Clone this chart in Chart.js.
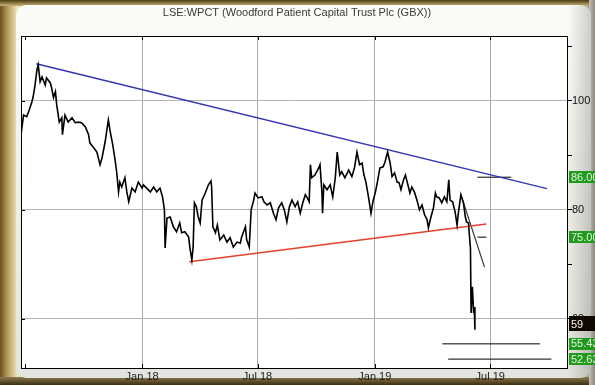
<!DOCTYPE html>
<html>
<head>
<meta charset="utf-8">
<script src="https://cdn.jsdelivr.net/npm/chart.js@4"></script>
<style>
html, body { margin: 0; padding: 0; }
body {
  width: 595px; height: 385px; overflow: hidden; position: relative;
  background: linear-gradient(to right, #6a5216 0px, #b89f5e 8px, #eee3bb 17px, #cfc5a0 60%, #a8a49a 100%);
}
#topband { position: absolute; left: 0; top: 0; width: 595px; height: 6px;
  background: linear-gradient(#4c3c10, #c9b67c); }
#bottomband { position: absolute; left: 0; top: 377px; width: 595px; height: 8px;
  background: linear-gradient(#8a7a50, #3e3010); }
#rightband { position: absolute; left: 589px; top: 0; width: 6px; height: 385px;
  background: linear-gradient(to right, #c4c0b4, #8a867c); }
#panel { position: absolute; left: 16px; top: 5px; width: 575px; height: 373px; border-radius: 10px;
  background: linear-gradient(to right, rgba(0,0,0,0) 96%, rgba(0,0,0,0.18)), linear-gradient(#fbfbf7, #e4e4de); }
#chart { position: absolute; left: 0; top: 0; }
</style>
</head>
<body>
<div id="topband"></div>
<div id="bottomband"></div>
<div id="rightband"></div>
<div id="panel"></div>
<canvas id="chart" width="595" height="385"></canvas>
<script>
// days counted from 1 Jan 2018, values in GBX
const titleText = "LSE:WPCT (Woodford Patient Capital Trust Plc (GBX))";

const priceDays = [
  -190,-186,-181,-178,-173,-171,-168,-165,-163,-160,-157,-152,-150,-144,-142,-139,-136,-134,-130,-126,
  -125,-121,-116,-110,-105,-100,-95,-89,-84,-82,-76,-71,-66,-63,-58,-53,-50,-46,-42,-40,
  -37,-35,-32,-27,-24,-21,-16,-11,-6,0,
  2,7,13,18,23,28,32,35,36,39,44,49,54,59,62,67,73,75,78,80,82,85,88,91,94,99,104,108,109,111,
  115,118,122,128,133,138,143,149,154,156,162,164,168,171,175,177,182,188,191,
  196,201,206,210,214,219,223,227,231,235,240,244,248,252,256,259,262,264,266,271,
  277,279,282,283,285,290,295,299,303,306,310,313,318,324,329,333,337,341,345,348,
  351,355,359,362,366,369,373,378,381,385,389,392,396,400,403,406,410,413,416,420,
  423,427,431,435,439,443,447,449,453,457,460,462,466,470,474,478,481,483,487,491,
  494,496,500,504,507,509,512,513,515,516,518,520,521,522
];
const priceValues = [
  93.8,97.4,97.1,98.0,99.8,100.7,102.9,105.7,106.6,103.5,104.4,102.9,104.2,103.3,102.4,100.6,101.7,99.3,96.1,96.9,
  93.8,97.4,96.1,96.9,96.0,96.1,96.0,95.2,93.8,92.3,91.4,90.6,88.3,89.5,92.5,96.5,94.3,91.9,88.8,87.0,
  83.3,85.1,84.2,85.9,83.3,81.5,84.0,83.3,85.1,84.0,
  84.6,84.0,83.3,84.2,83.3,84.0,82.4,80.0,73.0,78.5,78.7,76.9,76.0,77.6,75.8,76.0,75.0,73.0,70.8,73.2,
  81.3,80.6,78.7,77.6,81.8,83.1,84.6,85.3,84.2,76.9,75.8,77.2,74.5,75.4,74.1,74.9,73.2,74.1,73.9,75.0,
  76.9,74.5,73.2,80.0,81.8,83.1,82.2,82.4,81.5,
  80.9,81.3,79.4,78.2,80.4,81.3,80.0,77.8,80.6,81.8,80.6,81.5,79.4,81.3,82.8,82.2,81.5,88.3,85.9,86.4,
  87.7,88.3,83.3,79.4,84.6,83.7,84.6,82.4,85.9,90.6,86.4,87.0,85.9,87.3,86.1,87.7,90.6,88.3,88.6,86.4,
  85.1,82.4,79.4,81.5,83.3,85.1,87.7,87.9,88.8,90.6,88.6,86.1,86.8,85.1,85.0,83.7,85.5,86.4,85.0,83.1,
  84.2,83.3,81.8,80.0,80.9,79.1,78.2,76.7,78.7,80.4,83.1,82.4,82.2,81.3,82.4,81.5,85.5,81.8,81.5,79.6,
  77.2,79.4,82.8,81.3,78.7,77.8,77.6,75.8,73.0,61.1,65.9,61.1,62.2,58.0
];

// trend lines (start, end)
const resistDays = [-166, 635], resistValues = [106.8, 83.9];
const supportDays = [74, 540], supportValues = [70.5, 77.4];
const dropDays = [500, 537], dropValues = [82.8, 69.5];

// target levels
const levelValues = [86, 75, 55.43, 52.63];
const levelStart = [526, 526, 471, 480];
const levelEnd = [579, 540, 624, 642];
const lastPrice = 59;

const tickDays = [-184, 0, 181, 365, 546];
const tickLabels = ['', 'Jan 18', 'Jul 18', 'Jan 19', 'Jul 19'];
const labelledY = [60, 80, 100];

function pts(xs, ys) { return xs.map((x, i) => ({x: x, y: ys[i]})); }

const lineSets = [
  {data: pts(priceDays, priceValues), borderColor: '#000', borderWidth: 1.6},
  {data: pts(resistDays, resistValues), borderColor: '#3434b4', borderWidth: 1.5},
  {data: pts(supportDays, supportValues), borderColor: '#e8402c', borderWidth: 1.5},
  {data: pts(dropDays, dropValues), borderColor: '#333', borderWidth: 1.2}
];
levelValues.forEach((v, i) => {
  lineSets.push({data: pts([levelStart[i], levelEnd[i]], [v, v]), borderColor: '#000', borderWidth: 1});
});

const fontFam = '"Liberation Sans", Arial, sans-serif';

const framePlugin = {
  id: 'framePlugin',
  beforeDraw(c) {
    const ctx = c.ctx, a = c.chartArea;
    ctx.save();
    ctx.fillStyle = '#fff';
    ctx.fillRect(a.left, a.top, a.right - a.left, a.bottom - a.top);
    ctx.fillStyle = '#3a3a3a';
    ctx.font = '11px ' + fontFam;
    ctx.textAlign = 'center';
    ctx.textBaseline = 'middle';
    ctx.fillText(titleText, 297, 13);
    ctx.restore();
  },
  afterDraw(c) {
    const ctx = c.ctx, a = c.chartArea, ys = c.scales.y, xs = c.scales.x;
    ctx.save();
    ctx.strokeStyle = '#000';
    ctx.lineWidth = 1;
    ctx.strokeRect(a.left + 0.5, a.top + 0.5, a.right - a.left - 1, a.bottom - a.top);
    // small inner ticks
    tickDays.forEach(d => {
      const x = Math.round(xs.getPixelForValue(d)) + 0.5;
      ctx.beginPath();
      ctx.moveTo(x, a.bottom); ctx.lineTo(x, a.bottom - 4);
      ctx.moveTo(x, a.top); ctx.lineTo(x, a.top + 4);
      ctx.stroke();
    });
    labelledY.forEach(v => {
      const y = Math.round(ys.getPixelForValue(v)) + 0.5;
      ctx.beginPath();
      ctx.moveTo(a.left, y); ctx.lineTo(a.left + 4, y);
      ctx.stroke();
    });
    // level boxes
    ctx.font = '11px ' + fontFam;
    ctx.textBaseline = 'middle';
    ctx.textAlign = 'left';
    levelValues.forEach(v => {
      const y = ys.getPixelForValue(v);
      ctx.fillStyle = '#1f9a1c';
      ctx.fillRect(a.right + 1, Math.round(y) - 6, 40, 12);
      ctx.fillStyle = '#e4f4e0';
      ctx.fillText(v.toFixed(2), a.right + 3, y + 0.5);
    });
    const yp = ys.getPixelForValue(lastPrice);
    ctx.fillStyle = '#0e0800';
    ctx.fillRect(a.right + 1, Math.round(yp) - 8, 40, 15);
    ctx.fillStyle = '#f4f4f4';
    ctx.fillText(String(lastPrice), a.right + 3, yp + 0.5);
    ctx.restore();
  }
};

new Chart(document.getElementById('chart'), {
  type: 'line',
  data: {datasets: lineSets},
  options: {
    responsive: false,
    animation: false,
    elements: {point: {radius: 0}, line: {tension: 0}},
    layout: {padding: {left: 21, top: 36, right: 0, bottom: 0}},
    plugins: {legend: {display: false}, tooltip: {enabled: false}, title: {display: false}},
    scales: {
      x: {
        type: 'linear', min: -190, max: 668,
        afterBuildTicks: s => { s.ticks = tickDays.map(v => ({value: v})); },
        afterFit: s => { s.height = 17; },
        grid: {
          color: ctx => (ctx.tick && ctx.tick.value === tickDays[0]) ? 'rgba(0,0,0,0)' : '#a8a8a8',
          drawTicks: false, lineWidth: 1
        },
        border: {display: false},
        ticks: {
          padding: 2, color: '#222', font: {family: fontFam, size: 11},
          maxRotation: 0, autoSkip: false,
          callback: v => tickLabels[tickDays.indexOf(v)]
        }
      },
      y: {
        position: 'right', min: 51.0, max: 111.9,
        afterBuildTicks: s => { s.ticks = [60, 70, 80, 90, 100, 110].map(v => ({value: v})); },
        afterFit: s => { s.width = 27; },
        grid: {
          color: ctx => (ctx.tick && labelledY.includes(ctx.tick.value)) ? '#b4b4b4' : 'rgba(0,0,0,0)',
          tickColor: '#000', tickLength: 4, drawTicks: true
        },
        border: {display: false},
        ticks: {
          padding: 0, color: '#111', font: {family: fontFam, size: 11},
          callback: v => labelledY.includes(v) ? String(v) : ''
        }
      }
    }
  },
  plugins: [framePlugin]
});
</script>
</body>
</html>
